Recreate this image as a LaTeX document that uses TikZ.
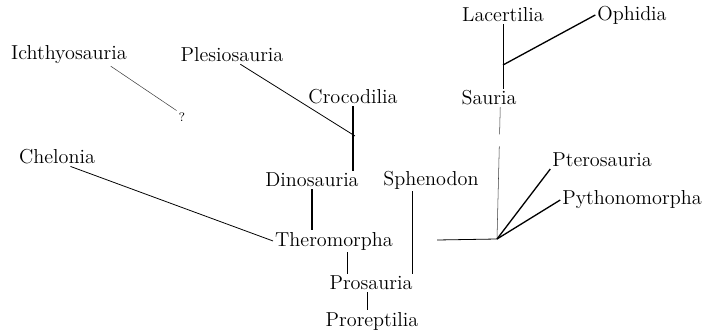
\documentclass[tikz,border=0pt]{standalone}
\begin{document}
\begin{tikzpicture}[x=0.02cm, y=-0.02cm, every node/.style={font=\fontsize{11.5}{14}\selectfont, inner sep=1pt}, qmark/.style={font=\fontsize{7}{8}\selectfont}, ln/.style={line width=0.45pt}, hv/.style={line width=0.75pt}, fn/.style={line width=0.3pt, black!75}]
\useasboundingbox (0,0) rectangle (709,334);
\node (ich) at (69,55) {Ichthyosauria};
\node[qmark] (q) at (182,117) {?};
\node (ple) at (232,55) {Plesiosauria};
\node (croc) at (353,97) {Crocodilia};
\node (chel) at (57,157) {Chelonia};
\node (dino) at (312,180) {Dinosauria};
\node (sphen) at (431,180) {Sphenodon};
\node (thero) at (334,241) {Theromorpha};
\node (pros) at (371,283) {Prosauria};
\node (prorep) at (372,321) {Proreptilia};
\node (lac) at (503,15) {Lacertilia};
\node (oph) at (632,15) {Ophidia};
\node (sau) at (489,98) {Sauria};
\node (pter) at (602,160) {Pterosauria};
\node (pyth) at (632,200) {Pythonomorpha};
% branch points
\coordinate (jcroc) at (355,136);
\coordinate (joph) at (503,65);
\coordinate (jroot) at (497,239);
\coordinate (jfree) at (437,240);
\draw[fn] (ich.-15) -- (q.north west);
\draw[ln] (ple.-48) -- (jcroc);
\draw[hv] (croc.south) -- (croc.south |- dino.north);
\draw[hv] (dino.south) -- (dino.south |- thero.north);
\draw[ln] (chel.-35) -- (thero.west);
\draw[ln] (thero.-39) -- (thero.-39 |- pros.north);
\draw[hv] (sphen.-149) -- (sphen.-149 |- pros.north);
\draw[ln] (pros.-114) -- (pros.-114 |- prorep.north);
\draw[ln] (lac.south) -- (lac.south |- sau.north);
\draw[hv] (joph) -- (oph.west);
\draw[fn, dash pattern=on 0.54cm off 0.24cm on 3cm off 0.1cm] (sau.-40) -- (jroot);
\draw[ln] (jfree) -- (jroot);
\draw[hv] (jroot) -- (pter.south west);
\draw[hv] (jroot) -- (pyth.west);
\end{tikzpicture}
\end{document}
